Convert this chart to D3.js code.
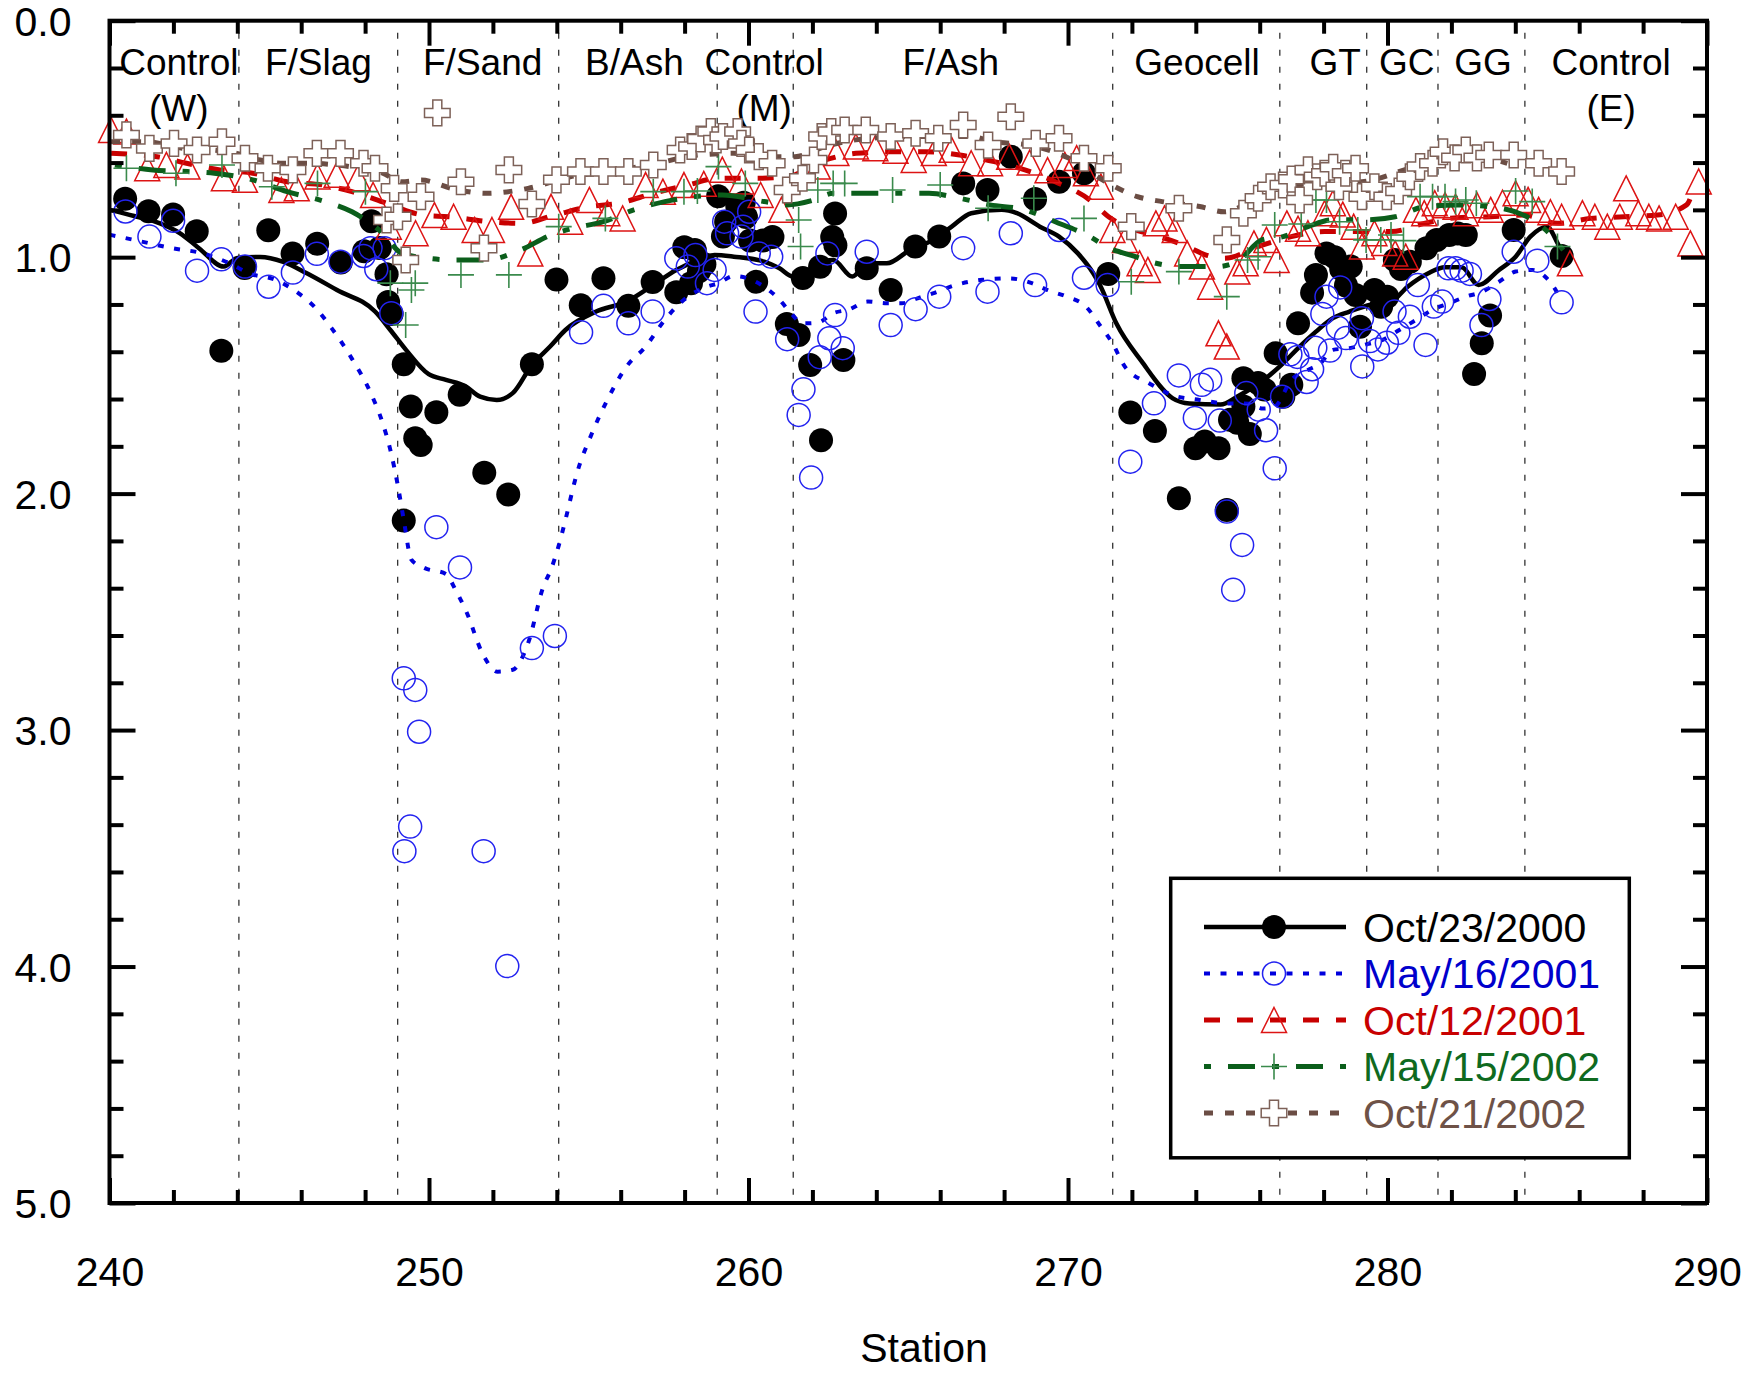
<!DOCTYPE html>
<html>
<head>
<meta charset="utf-8">
<script src="https://cdn.jsdelivr.net/npm/d3@7"></script>
<style>
  html, body { margin: 0; padding: 0; background: #fff; }
  svg { display: block; }
  text { font-family: "Liberation Sans", Arial, Helvetica, sans-serif; }
</style>
</head>
<body>
<svg id="chart" width="1752" height="1373"></svg>
<script>
// ---------------- DATA ----------------
const xDomain = [240, 290];
const yDomain = [0, 5];
const xMajorTicks = [240, 250, 260, 270, 280, 290];
const yMajorTicks = [0, 1, 2, 3, 4, 5];
const xLabel = "Station";

// section boundaries (station)
const zoneBounds = [244.05, 249.02, 254.06, 259.02, 261.4, 271.4, 276.63, 279.35, 281.58, 284.3];
// section labels: [station centre, line1, line2]
const zoneLabels = [
  [242.17, "Control", "(W)"], [246.54, "F/Slag", ""], [251.68, "F/Sand", ""],
  [256.43, "B/Ash", ""], [260.49, "Control", "(M)"], [266.33, "F/Ash", ""],
  [274.04, "Geocell", ""], [278.36, "GT", ""], [280.6, "GC", ""], [282.99, "GG", ""],
  [287.0, "Control", "(E)"]
];

const seriesNames = ["Oct/23/2000", "May/16/2001", "Oct/12/2001", "May/15/2002", "Oct/21/2002"];

// Oct/23/2000 measured points [station, value]
const oct2000Pts = [
  [240.49,0.753],[241.22,0.806],[241.99,0.82],[242.73,0.89],[243.5,1.396],[244.23,1.046],
  [244.97,0.886],[245.73,0.985],[246.5,0.943],[247.24,1.023],[247.97,0.975],[248.2,0.848],
  [248.46,0.961],[248.67,1.072],[248.72,1.19],[248.83,1.24],[249.21,1.453],[249.21,2.114],
  [249.43,1.632],[249.57,1.766],[249.74,1.794],[250.23,1.656],[250.96,1.582],[251.73,1.912],
  [252.48,2.004],[253.22,1.453],[253.99,1.095],[254.75,1.203],[255.46,1.089],[256.24,1.206],
  [257.0,1.105],[257.74,1.148],[257.99,0.958],[258.32,0.97],[258.2,1.11],[258.45,1.06],
  [258.62,1.03],[259.05,0.742],[259.3,0.85],[259.2,0.913],[259.65,0.786],[259.85,0.77],
  [259.92,0.83],[260.05,0.93],[260.24,1.104],[260.45,0.93],[260.75,0.915],[261.2,1.283],
  [261.57,1.329],[261.93,1.456],[261.7,1.088],[262.24,1.041],[262.71,0.815],[262.62,0.915],
  [262.72,0.95],[262.97,1.435],[262.27,1.774],[263.7,1.047],[264.45,1.139],[265.22,0.955],
  [265.97,0.913],[266.72,0.688],[267.48,0.716],[268.21,0.575],[268.97,0.754],[269.72,0.681],
  [270.5,0.645],[271.26,1.071],[271.95,1.657],[272.72,1.735],[273.47,2.02],[273.99,1.808],
  [274.28,1.78],[274.71,1.808],[274.97,2.069],[275.07,1.688],[275.3,1.7],[275.49,1.512],
  [275.49,1.632],[275.69,1.748],[275.95,1.532],[276.15,1.56],[276.5,1.406],[276.74,1.59],
  [276.99,1.54],[277.2,1.28],[277.64,1.15],[277.76,1.075],[278.09,0.984],[278.35,1.0],
  [278.55,1.05],[278.85,1.04],[278.7,1.12],[279.0,1.16],[279.14,1.294],[279.59,1.139],
  [279.99,1.167],[279.8,1.21],[280.23,1.012],[280.42,1.05],[280.7,1.019],[281.22,0.962],
  [281.54,0.927],[281.93,0.906],[282.2,0.9],[282.45,0.906],[282.71,1.494],[282.95,1.364],
  [283.21,1.247],[283.95,0.885],[285.45,0.995]
];
// Oct/23/2000 trend line
const oct2000Line = [
  [240.0,0.80],[240.77,0.826],[241.58,0.857],[242.21,0.899],[242.8,0.962],[243.58,1.04],
  [244.0,1.003],[244.72,0.999],[245.44,1.02],[246.16,1.067],[247.12,1.139],[248.32,1.231],
  [248.79,1.308],[249.28,1.392],[249.99,1.495],[250.53,1.519],[251.13,1.545],[251.6,1.59],
  [252.12,1.604],[252.62,1.575],[253.22,1.456],[253.79,1.378],[254.27,1.308],[255.23,1.23],
  [256.18,1.188],[257.01,1.118],[257.74,1.054],[258.58,1.005],[258.94,0.991],[259.54,0.998],
  [260.49,1.019],[260.97,1.047],[261.39,1.082],[261.75,1.082],[262.17,1.033],[262.65,1.012],
  [263.25,1.082],[263.73,1.026],[264.33,1.026],[265.05,0.97],[265.77,0.928],[266.36,0.871],
  [266.97,0.814],[267.92,0.8],[268.4,0.814],[269.12,0.871],[269.72,0.913],[270.31,0.984],
  [270.79,1.068],[271.0,1.118],[271.52,1.282],[272.3,1.44],[273.28,1.597],[273.8,1.619],
  [274.78,1.623],[275.29,1.59],[276.13,1.519],[276.73,1.449],[277.25,1.378],[277.76,1.315],
  [278.29,1.258],[278.81,1.23],[279.5,1.2],[280.11,1.188],[280.63,1.125],[281.28,1.068],
  [281.8,1.043],[282.32,1.043],[282.85,1.118],[283.49,1.054],[284.01,0.998],[284.47,0.913],
  [284.99,0.871],[285.32,0.94],[285.5,0.99]
];

// May/16/2001
const may2001Pts = [
  [240.5,0.807],[241.25,0.913],[241.99,0.846],[242.74,1.057],[243.5,1.009],[244.24,1.04],
  [244.98,1.125],[245.74,1.065],[246.49,0.986],[247.23,1.019],[247.95,0.995],[248.17,0.962],
  [248.35,1.051],[248.61,0.962],[248.82,1.237],[249.21,2.781],[249.57,2.83],[249.69,3.007],
  [249.41,3.408],[249.23,3.512],[250.23,2.142],[250.97,2.312],[251.71,3.512],[252.45,3.998],
  [253.22,2.653],[253.94,2.602],[254.76,1.318],[255.46,1.206],[256.24,1.28],[257.0,1.23],
  [257.74,1.005],[258.1,1.04],[258.34,0.991],[258.7,1.11],[258.94,1.054],[259.24,0.85],
  [259.33,0.899],[259.78,0.913],[259.83,0.871],[260.02,0.808],[260.32,0.984],[260.71,0.998],
  [260.22,1.23],[261.21,1.347],[261.72,1.559],[261.57,1.667],[261.96,1.932],[262.23,1.423],
  [262.53,1.343],[262.95,1.385],[262.71,1.245],[262.47,0.984],[263.7,0.977],[264.45,1.287],
  [265.23,1.22],[265.97,1.167],[266.72,0.962],[267.48,1.146],[268.21,0.899],[268.97,1.118],
  [269.72,0.885],[270.5,1.087],[271.24,1.118],[271.95,1.865],[272.69,1.618],[273.47,1.5],
  [273.97,1.68],[274.19,1.54],[274.45,1.518],[274.75,1.691],[274.97,2.076],[275.17,2.407],
  [275.45,2.217],[275.58,1.575],[275.97,1.645],[276.2,1.732],[276.47,1.893],[276.7,1.59],
  [276.96,1.411],[277.18,1.422],[277.47,1.528],[277.64,1.474],[277.74,1.383],[277.96,1.24],
  [278.09,1.167],[278.52,1.128],[278.2,1.395],[278.45,1.298],[278.7,1.342],[279.2,1.258],
  [279.21,1.462],[279.45,1.355],[279.7,1.39],[279.98,1.362],[280.22,1.23],[280.34,1.32],
  [280.7,1.252],[280.95,1.118],[281.19,1.371],[281.45,1.209],[281.71,1.188],[281.91,1.047],
  [282.13,1.047],[282.32,1.057],[282.58,1.071],[283.19,1.177],[282.94,1.287],[283.95,0.977],
  [284.69,1.015],[285.45,1.191]
];
const may2001Line = [
  [240.0,0.905],[240.77,0.927],[241.96,0.962],[242.92,0.984],[243.76,1.026],[244.36,1.068],
  [245.2,1.096],[245.92,1.153],[246.45,1.215],[246.95,1.3],[247.59,1.43],[248.16,1.57],
  [248.55,1.702],[248.79,1.815],[249.03,1.97],[249.21,2.111],[249.45,2.28],[249.87,2.315],
  [250.53,2.34],[250.83,2.407],[251.19,2.506],[251.67,2.675],[252.15,2.753],[252.62,2.745],
  [253.1,2.633],[253.58,2.393],[253.82,2.32],[254.06,2.22],[254.27,2.111],[254.63,1.914],
  [255.1,1.745],[255.58,1.604],[256.18,1.463],[256.78,1.378],[257.38,1.265],[257.98,1.18],
  [258.7,1.125],[259.06,1.11],[259.54,1.08],[260.49,1.125],[260.97,1.18],[261.33,1.237],
  [261.69,1.28],[262.17,1.277],[262.65,1.237],[263.13,1.222],[263.73,1.188],[264.33,1.195],
  [264.8,1.195],[265.29,1.174],[265.77,1.153],[266.48,1.118],[267.32,1.096],[268.16,1.09],
  [268.87,1.11],[269.36,1.139],[269.96,1.167],[270.56,1.209],[271.03,1.294],[271.39,1.364],
  [271.78,1.463],[272.56,1.535],[273.28,1.584],[274.12,1.604],[274.9,1.618],[275.69,1.62],
  [276.1,1.64],[276.47,1.632],[276.99,1.519],[277.51,1.477],[277.9,1.449],[278.29,1.392],
  [278.81,1.385],[279.3,1.37],[279.85,1.35],[280.37,1.308],[280.9,1.265],[281.41,1.222],
  [281.93,1.195],[282.45,1.167],[282.97,1.146],[283.49,1.104],[284.01,1.061],[284.53,1.054],
  [284.99,1.09],[285.32,1.153],[285.45,1.19]
];

// Oct/12/2001
const oct2001Pts = [
  [240.05,0.462],[240.53,0.469],[241.18,0.624],[241.78,0.61],[242.44,0.617],[243.58,0.666],
  [244.24,0.673],[245.38,0.716],[245.86,0.709],[246.51,0.659],[247.11,0.652],[247.77,0.666],
  [248.25,0.737],[248.74,0.871],[249.58,0.899],[250.17,0.822],[250.77,0.829],[251.43,0.885],
  [251.97,0.885],[252.57,0.787],[253.17,0.984],[253.82,0.787],[254.42,0.85],[255.02,0.758],
  [255.58,0.814],[256.06,0.836],[256.78,0.695],[257.32,0.723],[257.98,0.695],[258.6,0.69],
  [259.18,0.63],[259.78,0.68],[260.38,0.737],[261.03,0.8],[262.17,0.617],[262.75,0.56],
  [263.36,0.532],[263.97,0.539],[264.6,0.55],[265.17,0.589],[265.8,0.56],[266.36,0.546],
  [266.97,0.603],[267.56,0.603],[268.16,0.575],[268.8,0.6],[269.36,0.632],[269.9,0.61],
  [270.27,0.581],[270.56,0.645],[271.03,0.702],[271.39,0.885],[271.78,0.927],[272.24,1.026],
  [272.5,1.054],[272.75,0.857],[273.02,0.836],[273.34,0.885],[273.73,0.984],[274.19,1.04],
  [274.45,1.125],[274.71,1.322],[274.97,1.378],[275.3,1.061],[275.56,1.026],[275.82,0.942],
  [276.21,0.927],[276.53,1.012],[276.85,0.857],[277.2,0.88],[277.51,0.899],[278.03,0.814],
  [278.29,0.772],[278.6,0.82],[278.94,0.871],[279.2,0.955],[279.59,0.899],[279.9,0.94],
  [280.24,0.984],[280.57,0.998],[280.89,0.8],[281.15,0.814],[281.48,0.772],[281.8,0.78],
  [282.13,0.787],[282.45,0.814],[282.8,0.78],[283.23,0.8],[283.6,0.77],[284.01,0.73],
  [284.4,0.758],[284.73,0.8],[285.1,0.81],[285.45,0.829],[285.71,1.026],[286.1,0.814],
  [286.49,0.829],[286.88,0.871],[287.27,0.829],[287.47,0.709],[287.85,0.814],[288.18,0.829],
  [288.5,0.836],[289.02,0.829],[289.48,0.942],[289.74,0.68]
];
const oct2001Line = [
  [240.05,0.561],[241.49,0.575],[242.41,0.603],[243.46,0.631],[244.48,0.645],[245.56,0.681],
  [246.69,0.695],[247.59,0.723],[248.67,0.772],[249.81,0.822],[250.61,0.829],[251.91,0.85],
  [252.89,0.857],[253.94,0.822],[255.08,0.785],[255.95,0.772],[257.02,0.73],[258.1,0.695],
  [259.06,0.666],[260.38,0.666],[261.21,0.66],[262.41,0.589],[263.36,0.561],[264.45,0.554],
  [265.53,0.554],[266.61,0.568],[267.69,0.596],[268.65,0.631],[269.6,0.681],[270.68,0.758],
  [271.27,0.829],[272.0,0.88],[272.69,0.906],[273.73,0.955],[274.3,0.99],[274.9,1.005],
  [275.95,0.955],[276.99,0.913],[278.03,0.892],[279.07,0.892],[280.11,0.892],[281.15,0.857],
  [282.19,0.833],[283.23,0.829],[284.27,0.822],[285.32,0.857],[286.36,0.836],[287.4,0.829],
  [288.45,0.822],[289.36,0.779],[289.6,0.70]
];

// May/15/2002
const may2002Pts = [
  [240.53,0.624],[242.08,0.645],[243.52,0.61],[245.08,0.702],[246.51,0.688],[248.01,0.723],
  [248.79,1.11],[249.27,1.287],[249.45,1.139],[249.57,1.11],[251.0,1.075],[252.5,1.075],
  [254.06,0.871],[255.52,0.836],[257.02,0.723],[257.98,0.723],[258.4,0.72],[259.06,0.617],
  [259.9,0.688],[261.57,0.843],[261.63,0.955],[262.17,0.716],[262.65,0.688],[263.01,0.688],
  [264.51,0.716],[266.0,0.695],[267.5,0.793],[268.93,0.751],[270.5,0.836],[271.98,1.104],
  [273.47,1.061],[274.97,1.167],[275.62,1.012],[275.95,0.998],[276.47,0.864],[277.3,0.86],
  [277.76,0.758],[278.09,0.758],[278.5,0.85],[279.07,0.885],[279.33,0.927],[279.79,0.927],
  [280.11,0.906],[280.5,0.93],[281.02,0.744],[281.41,0.744],[281.8,0.744],[282.13,0.765],
  [282.45,0.758],[282.78,0.772],[284.01,0.72],[284.53,0.765],[285.32,0.955]
];
const may2002Line = [
  [240.17,0.61],[241.36,0.631],[242.44,0.638],[243.28,0.645],[244.48,0.673],[245.56,0.723],
  [246.75,0.765],[247.59,0.808],[248.55,0.899],[249.15,0.984],[249.99,1.005],[250.83,1.012],
  [251.78,1.012],[252.86,0.97],[253.82,0.906],[254.5,0.878],[255.46,0.85],[256.41,0.8],
  [257.38,0.765],[258.34,0.744],[259.18,0.737],[260.49,0.765],[261.21,0.779],[262.05,0.758],
  [262.65,0.73],[263.49,0.73],[264.57,0.73],[265.65,0.73],[266.61,0.751],[267.56,0.779],
  [268.65,0.8],[269.6,0.85],[270.68,0.913],[271.27,0.96],[272.11,0.998],[272.56,1.019],
  [273.6,1.04],[274.64,1.04],[275.3,1.019],[276.07,0.927],[276.73,0.913],[277.51,0.871],
  [278.29,0.842],[279.33,0.842],[280.24,0.829],[281.15,0.787],[282.19,0.779],[283.23,0.787],
  [284.53,0.842],[285.06,0.899],[285.5,0.97]
];

// Oct/21/2002
const oct2002Pts = [
  [240.53,0.483],[241.25,0.54],[242.02,0.519],[242.74,0.547],[243.52,0.512],[244.24,0.582],
  [244.96,0.624],[245.74,0.631],[246.49,0.561],[247.23,0.561],[247.95,0.603],[248.31,0.624],
  [248.91,0.709],[248.67,0.843],[249.03,0.829],[249.27,1.012],[249.75,0.744],[250.26,0.39],
  [251.0,0.681],[251.72,0.962],[252.5,0.631],[253.22,0.775],[253.99,0.673],[254.74,0.638],
  [255.46,0.638],[256.24,0.638],[257.02,0.61],[257.86,0.547],[258.22,0.532],[258.5,0.5],
  [258.82,0.469],[259.0,0.504],[259.2,0.49],[259.66,0.469],[259.78,0.519],[260.02,0.547],
  [260.32,0.575],[260.74,0.603],[261.21,0.716],[261.69,0.666],[262.05,0.589],[262.29,0.49],
  [262.59,0.469],[263.01,0.462],[263.67,0.462],[264.45,0.49],[265.23,0.476],[265.94,0.497],
  [266.72,0.441],[267.5,0.526],[268.21,0.406],[268.99,0.519],[269.72,0.497],[270.5,0.582],
  [271.26,0.624],[271.98,0.871],[273.47,0.793],[274.97,0.927],[275.49,0.814],[275.95,0.751],
  [276.34,0.702],[276.73,0.695],[277.0,0.67],[277.25,0.758],[277.51,0.631],[277.8,0.66],
  [278.03,0.645],[278.3,0.62],[278.48,0.702],[278.68,0.645],[279.0,0.624],[279.2,0.744],
  [279.59,0.702],[279.98,0.744],[280.35,0.72],[280.7,0.66],[281.02,0.617],[281.41,0.603],
  [281.74,0.554],[282.1,0.58],[282.45,0.547],[282.8,0.58],[283.17,0.568],[283.95,0.568],
  [284.73,0.603],[285.45,0.638]
];
const oct2002Line = [
  [240.05,0.512],[241.16,0.512],[242.32,0.54],[243.25,0.547],[243.98,0.561],[244.71,0.589],
  [245.44,0.603],[246.16,0.603],[247.11,0.61],[247.83,0.624],[248.55,0.645],[249.15,0.681],
  [249.75,0.674],[250.71,0.709],[251.78,0.73],[253.1,0.709],[254.42,0.66],[255.5,0.64],
  [257.14,0.603],[258.3,0.57],[259.54,0.561],[260.4,0.575],[261.45,0.575],[262.41,0.532],
  [263.36,0.504],[265.0,0.49],[266.97,0.49],[267.69,0.512],[268.77,0.526],[270.0,0.58],
  [271.27,0.688],[272.17,0.744],[272.95,0.765],[274.12,0.786],[274.9,0.808],[275.5,0.78],
  [276.21,0.716],[277.5,0.69],[279.2,0.681],[280.89,0.617],[282.71,0.575],[283.75,0.603]
];

// ---------------- CHART ----------------
const svg = d3.select("#chart");
svg.append("rect").attr("width", 1752).attr("height", 1373).attr("fill", "#fff");

const L = 109.5, R = 1707, T = 20.7, B = 1203;
const x = d3.scaleLinear().domain(xDomain).range([L, R]);
const y = d3.scaleLinear().domain(yDomain).range([T, B]);

const FONT = '"Liberation Sans", Arial, Helvetica, sans-serif';

// zone boundaries
svg.append("g").selectAll("line").data(zoneBounds).join("line")
  .attr("x1", d => x(d)).attr("x2", d => x(d))
  .attr("y1", T + 12).attr("y2", B)
  .attr("stroke", "#222").attr("stroke-width", 1.2)
  .attr("stroke-dasharray", "6,11");

// zone labels
const zl = svg.append("g").attr("font-size", 37).attr("fill", "#000").attr("text-anchor", "middle");
zoneLabels.forEach(([s, a, b]) => {
  zl.append("text").attr("x", x(s)).attr("y", 75).text(a);
  if (b) zl.append("text").attr("x", x(s)).attr("y", 121).text(b);
});

// clip for lines
svg.append("clipPath").attr("id", "plotclip").append("rect")
  .attr("x", L).attr("y", T).attr("width", R - L).attr("height", B - T);

const lineGen = d3.line().x(d => x(d[0])).y(d => y(d[1])).curve(d3.curveMonotoneX);
const sortPts = a => a.slice().sort((p, q) => p[0] - q[0]);

const styles = [
  { line: oct2000Line, pts: oct2000Pts, color: "#000", lw: 4.5, dash: null, marker: "dot", text: "#000" },
  { line: may2001Line, pts: may2001Pts, color: "#0000dd", lw: 4, dash: "6,10.5", marker: "circle", text: "#0000cc" },
  { line: oct2001Line, pts: oct2001Pts, color: "#c80000", lw: 5, dash: "16,17", marker: "tri", text: "#c80000" },
  { line: may2002Line, pts: may2002Pts, color: "#0b5e1b", lw: 5, dash: "7,17,27,17", marker: "plus", text: "#0f6a1f" },
  { line: oct2002Line, pts: oct2002Pts, color: "#6b4d44", lw: 5, dash: "9,12", marker: "cross", text: "#6e5247" }
];

function drawMarker(g, type, cx, cy) {
  if (type === "dot") {
    g.append("circle").attr("cx", cx).attr("cy", cy).attr("r", 12).attr("fill", "#000");
  } else if (type === "circle") {
    g.append("circle").attr("cx", cx).attr("cy", cy).attr("r", 11.5)
      .attr("fill", "none").attr("stroke", "#2323f0").attr("stroke-width", 1.5);
  } else if (type === "tri") {
    g.append("path").attr("d", `M${cx},${cy - 12.5}L${cx + 12.5},${cy + 12.5}L${cx - 12.5},${cy + 12.5}Z`)
      .attr("fill", "none").attr("stroke", "#dd1414").attr("stroke-width", 1.5);
  } else if (type === "plus") {
    g.append("path").attr("d", `M${cx - 13},${cy}H${cx + 13}M${cx},${cy - 13}V${cy + 13}`)
      .attr("fill", "none").attr("stroke", "#3a8a4c").attr("stroke-width", 1.6);
  } else if (type === "cross") {
    const o = 12.8, w = 4.5;
    const d = `M${cx - w},${cy - o}H${cx + w}V${cy - w}H${cx + o}V${cy + w}H${cx + w}V${cy + o}H${cx - w}V${cy + w}H${cx - o}V${cy - w}H${cx - w}Z`;
    g.append("path").attr("d", d).attr("fill", "#fff").attr("stroke", "#7d6158").attr("stroke-width", 1.5);
  }
}

styles.forEach(s => {
  const g = svg.append("g");
  const p = g.append("path").datum(sortPts(s.line)).attr("d", lineGen)
    .attr("fill", "none").attr("stroke", s.color).attr("stroke-width", s.lw)
    .attr("clip-path", "url(#plotclip)");
  if (s.dash) p.attr("stroke-dasharray", s.dash);
  const mg = g.append("g");
  s.pts.forEach(d => drawMarker(mg, s.marker, x(d[0]), y(d[1])));
});

// axes
function styleAxis(g) {
  g.select(".domain").remove();
  g.selectAll(".tick line").attr("stroke", "#000").attr("stroke-width", 4);
}
const xMinor = d3.range(242, 290, 2).filter(v => v % 10 !== 0);
const yMinor = d3.range(1, 25).map(i => +(i * 0.2).toFixed(1)).filter(v => Math.abs(v - Math.round(v)) > 1e-6);

// bottom
const gB = svg.append("g").attr("transform", `translate(0,${B})`)
  .call(d3.axisBottom(x).tickValues(xMajorTicks).tickSize(-25).tickFormat(d3.format("d")));
styleAxis(gB);
gB.selectAll("text").attr("y", 83).attr("dy", 0).attr("font-size", 41).attr("fill", "#000").attr("font-family", FONT);
svg.append("g").attr("transform", `translate(0,${B})`)
  .call(d3.axisBottom(x).tickValues(xMinor).tickSize(-13).tickFormat("")).call(styleAxis);
// top
svg.append("g").attr("transform", `translate(0,${T})`)
  .call(d3.axisTop(x).tickValues(xMajorTicks).tickSize(-25).tickFormat("")).call(styleAxis);
svg.append("g").attr("transform", `translate(0,${T})`)
  .call(d3.axisTop(x).tickValues(xMinor).tickSize(-13).tickFormat("")).call(styleAxis);
// left
const gL = svg.append("g").attr("transform", `translate(${L},0)`)
  .call(d3.axisLeft(y).tickValues(yMajorTicks).tickSize(-26).tickFormat(d3.format(".1f")));
styleAxis(gL);
gL.selectAll("text").attr("x", -38).attr("dy", "0.36em").attr("font-size", 41).attr("fill", "#000").attr("font-family", FONT);
svg.append("g").attr("transform", `translate(${L},0)`)
  .call(d3.axisLeft(y).tickValues(yMinor).tickSize(-14).tickFormat("")).call(styleAxis);
// right
svg.append("g").attr("transform", `translate(${R},0)`)
  .call(d3.axisRight(y).tickValues(yMajorTicks).tickSize(-26).tickFormat("")).call(styleAxis);
svg.append("g").attr("transform", `translate(${R},0)`)
  .call(d3.axisRight(y).tickValues(yMinor).tickSize(-14).tickFormat("")).call(styleAxis);

// frame
svg.append("rect").attr("x", L).attr("y", T).attr("width", R - L).attr("height", B - T)
  .attr("fill", "none").attr("stroke", "#000").attr("stroke-width", 4);

// axis title
svg.append("text").attr("x", 924).attr("y", 1362).attr("text-anchor", "middle")
  .attr("font-size", 41).attr("fill", "#000").text(xLabel);

// legend
const lg = svg.append("g");
lg.append("rect").attr("x", 1170.7).attr("y", 878.3).attr("width", 458.6).attr("height", 279.5)
  .attr("fill", "#fff").attr("stroke", "#000").attr("stroke-width", 3.5);
const rowY = [927, 973.5, 1020, 1066.5, 1113];
styles.forEach((s, i) => {
  const yy = rowY[i];
  const ln = lg.append("line").attr("x1", 1204).attr("x2", 1346).attr("y1", yy).attr("y2", yy)
    .attr("stroke", s.color).attr("stroke-width", s.lw);
  if (s.dash) ln.attr("stroke-dasharray", s.dash);
  drawMarker(lg, s.marker, 1274, yy);
  lg.append("text").attr("x", 1363).attr("y", yy + 14.5).attr("font-size", 41)
    .attr("fill", s.text).text(seriesNames[i]);
});
</script>
</body>
</html>
